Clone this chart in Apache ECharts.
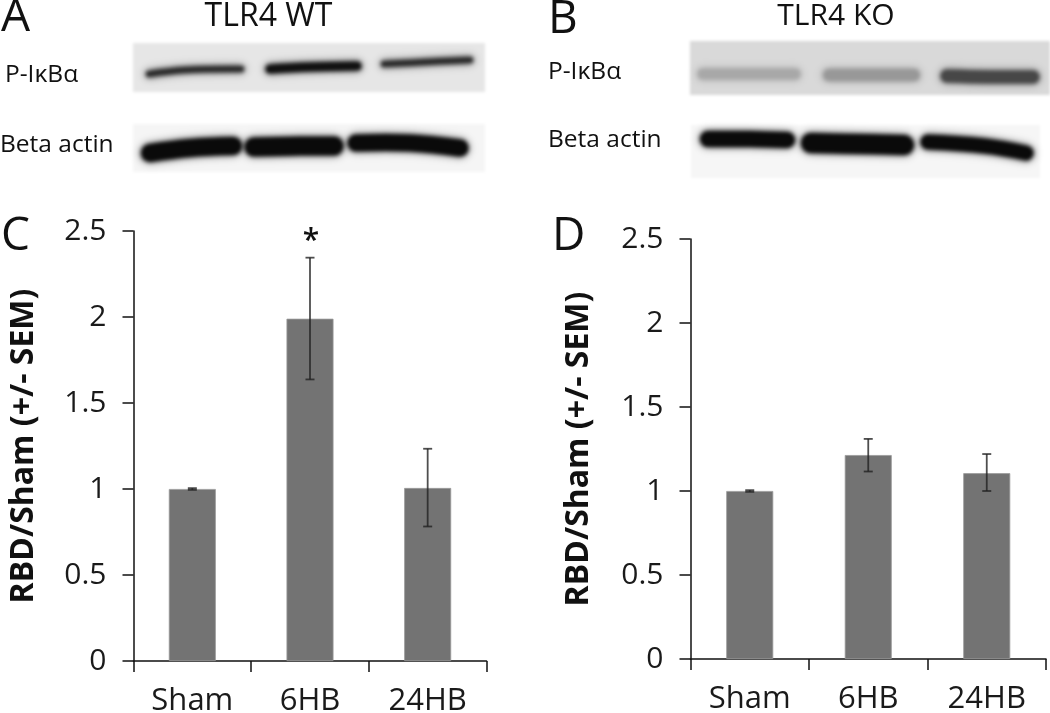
<!DOCTYPE html>
<html><head><meta charset="utf-8">
<style>html,body{margin:0;padding:0;background:#fff}
#c,#b{position:absolute;left:0;top:0;width:1050px;height:713px}
#c{z-index:2;filter:blur(0.45px)}
#b{z-index:1;filter:blur(1.5px)}</style>
<script src="https://cdn.jsdelivr.net/npm/echarts@6/dist/echarts.min.js"></script>
</head><body><div id="c"></div><div id="b"></div>
<script>
const categories = ['Sham', '6HB', '24HB'];
const wtValues = [1.0, 1.99, 1.006];
const wtErrLow = [0.995, 1.637, 0.782];
const wtErrHigh = [1.005, 2.345, 1.234];
const wtMarks = ['', '*', ''];
const koValues = [1.0, 1.214, 1.106];
const koErrLow = [0.995, 1.116, 1.0];
const koErrHigh = [1.005, 1.31, 1.22];
const koMarks = ['', '', ''];
const yTitle = 'RBD/Sham (+/- SEM)';
const FONT = '"Open Sans"';

const chart = echarts.init(document.getElementById('c'), null, {renderer: 'canvas'});
const blotChart = echarts.init(document.getElementById('b'), null, {renderer: 'canvas'});

function xAxis(i) {
  return {gridIndex: i, type: 'category', data: categories,
    axisLine: {lineStyle: {color: '#111', width: 1.5}, onZero: false},
    axisTick: {show: true, length: 11, alignWithLabel: false, lineStyle: {color: '#111', width: 1.5}},
    axisLabel: {color: '#1a1a1a', fontFamily: 'Open Sans', fontSize: 31, margin: 25, interval: 0}};
}
function yAxis(i, gap) {
  return {gridIndex: i, type: 'value', min: 0, max: 2.5, interval: 0.5,
    name: yTitle, nameLocation: 'middle', nameRotate: 90, nameGap: gap,
    nameTextStyle: {color: '#111', fontFamily: 'Open Sans', fontWeight: 'bold', fontSize: 32},
    axisLine: {show: true, lineStyle: {color: '#111', width: 1.5}},
    axisTick: {show: true, length: 11, lineStyle: {color: '#111', width: 1.5}},
    splitLine: {show: false},
    axisLabel: {color: '#1a1a1a', fontFamily: 'Open Sans', fontSize: 30, margin: 27}};
}
function barSeries(i, vals) {
  return {type: 'bar', xAxisIndex: i, yAxisIndex: i, data: vals, barWidth: 47,
    itemStyle: {color: '#737373', borderColor: '#9a9a9a', borderWidth: 0.8}, silent: true};
}
function errSeries(i, low, high, marks) {
  return {type: 'custom', xAxisIndex: i, yAxisIndex: i, z: 5, silent: true,
    encode: {x: 0, y: [1, 2]},
    data: categories.map((c, k) => [k, low[k], high[k], marks[k]]),
    renderItem(params, api) {
      const k = api.value(0);
      const a = api.coord([k, api.value(1)]);
      const b = api.coord([k, api.value(2)]);
      const mark = marks[k];
      const st = {stroke: '#222', lineWidth: 1.8, opacity: 0.8};
      const kids = [
        {type: 'line', shape: {x1: a[0], y1: a[1], x2: b[0], y2: b[1]}, style: st},
        {type: 'line', shape: {x1: a[0] - 4.5, y1: a[1], x2: a[0] + 4.5, y2: a[1]}, style: st},
        {type: 'line', shape: {x1: b[0] - 4.5, y1: b[1], x2: b[0] + 4.5, y2: b[1]}, style: st}
      ];
      if (mark) kids.push({type: 'text', style: {text: mark, x: b[0] + 1, y: b[1] - 1, align: 'center',
        verticalAlign: 'bottom', fill: '#111', font: '600 30px ' + FONT}});
      return {type: 'group', children: kids};
    }};
}
function txt(text, x, y, size, extra) {
  return {type: 'text', z: 20, silent: true, style: Object.assign({text, x, y, fill: '#111',
    font: size + 'px ' + FONT, verticalAlign: 'middle'}, extra || {})};
}
function rect(x, y, w, h, fill) {
  return {type: 'rect', z: 1, silent: true, shape: {x, y, width: w, height: h}, style: {fill}};
}
function bandLine(points, w, color, blur, alpha, z) {
  return {type: 'polyline', z, silent: true, shape: {points, smooth: 0.4},
    style: {stroke: color, lineWidth: w, lineCap: 'round', lineJoin: 'round', fill: null,
      opacity: alpha, shadowBlur: blur, shadowColor: color}};
}
function band(points, w, color, blur) {
  return [
    bandLine(points, w + 7, color, 9, 0.2, 2),
    bandLine(points, w + 3, color, 6, 0.4, 2),
    bandLine(points, w, color, blur, 1, 3)
  ];
}
const blots = [].concat(
  rect(133, 43, 352, 49, '#e6e6e6'),
  rect(133, 124, 352, 48, '#f5f5f5'),
  band([[149, 74], [185, 70], [241, 69]], 3.5, '#2b2b2b', 5),
  band([[270, 69], [310, 67], [357, 66]], 6, '#111', 5),
  band([[384, 64], [425, 62], [470, 60]], 3.5, '#2b2b2b', 5),
  band([[150, 153], [190, 148], [233, 146]], 15, '#0a0a0a', 4),
  band([[254, 147], [300, 146], [334, 146]], 16, '#0a0a0a', 4),
  band([[356, 143], [410, 143], [460, 148]], 14, '#0a0a0a', 4),
  rect(690, 41, 362, 54, '#d9d9d9'),
  rect(691, 125, 349, 53, '#f6f6f6'),
  band([[703, 74], [750, 74], [795, 74]], 8, '#a8a8a8', 6),
  band([[829, 75], [870, 75], [914, 75]], 9, '#989898', 6),
  band([[947, 76], [990, 77], [1033, 77]], 10, '#474747', 5),
  band([[708, 139], [750, 139], [787, 140]], 13, '#0a0a0a', 4),
  band([[811, 143], [860, 144], [904, 145]], 17, '#0a0a0a', 4),
  band([[928, 142], [985, 146], [1026, 153]], 12, '#0a0a0a', 4)
);
const labels = [
  txt('A', 1, 18, 46), txt('B', 548, 20, 46), txt('C', 1, 237, 46), txt('D', 552, 237, 46),
  txt('TLR4 WT', 268.5, 17, 32, {align: 'center'}),
  txt('TLR4 KO', 836, 16, 30, {align: 'center'}),
  txt('P-IκBα', 5, 75, 24.5), txt('Beta actin', 0, 145, 24.5),
  txt('P-IκBα', 548, 72, 24.5), txt('Beta actin', 548, 140, 24.5)
];

blotChart.setOption({animation: false, backgroundColor: '#fff', graphic: blots});
chart.setOption({
  animation: false,
  backgroundColor: 'transparent',
  grid: [
    {left: 133.5, top: 231, width: 353, height: 430, containLabel: false, outerBoundsMode: 'none'},
    {left: 690.5, top: 239, width: 355.5, height: 420, containLabel: false, outerBoundsMode: 'none'}
  ],
  xAxis: [xAxis(0), xAxis(1)],
  yAxis: [yAxis(0, 94), yAxis(1, 96)],
  series: [
    barSeries(0, wtValues), errSeries(0, wtErrLow, wtErrHigh, wtMarks),
    barSeries(1, koValues), errSeries(1, koErrLow, koErrHigh, koMarks)
  ],
  graphic: labels
});
</script></body></html>
